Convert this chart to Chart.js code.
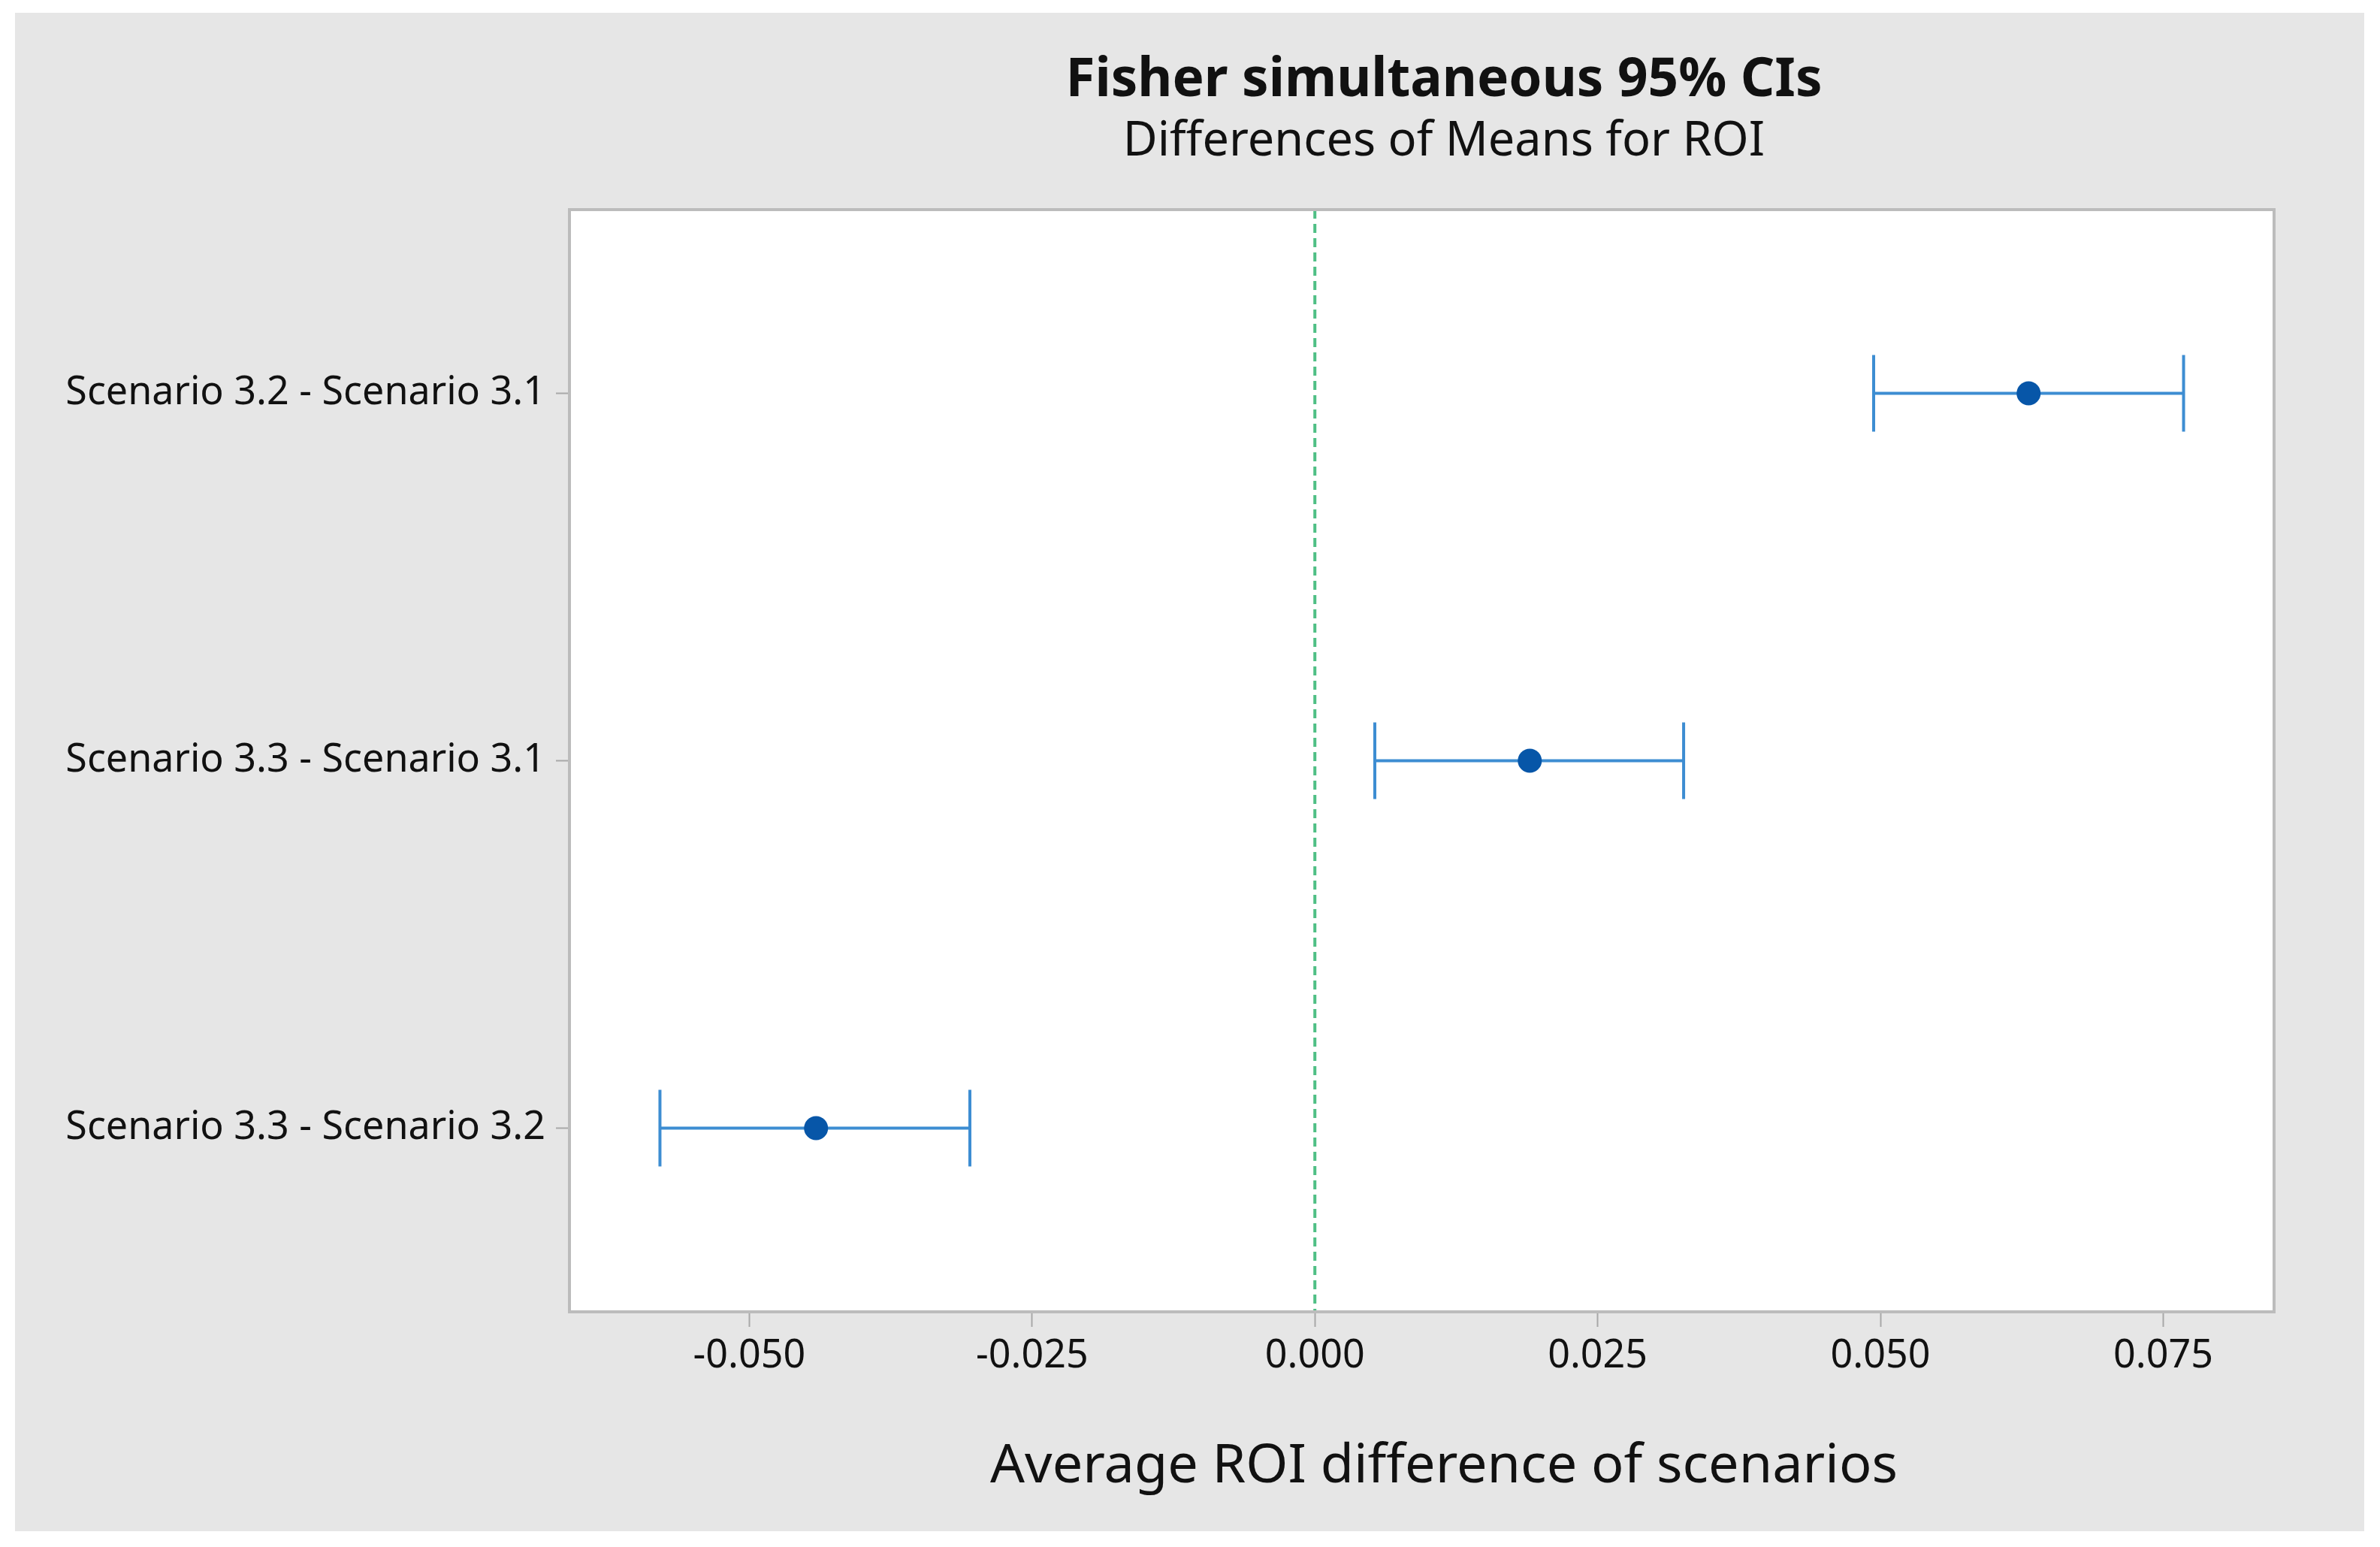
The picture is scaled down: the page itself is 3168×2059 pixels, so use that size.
<!DOCTYPE html>
<html>
<head>
<meta charset="utf-8">
<script src="https://cdn.jsdelivr.net/npm/chart.js@4.4.1/dist/chart.umd.min.js"></script>
<style>
  html, body { margin: 0; padding: 0; background: #ffffff; }
  canvas { display: block; }
</style>
</head>
<body>
<canvas id="ci-chart" width="3168" height="2059" style="width:3168px;height:2059px"></canvas>
<script>
// comparisons, top to bottom
const comparisons = [
  'Scenario 3.2 - Scenario 3.1',
  'Scenario 3.3 - Scenario 3.1',
  'Scenario 3.3 - Scenario 3.2'
];
const means = [0.0631, 0.0190, -0.0441];
const lowerCI = [0.0494, 0.0053, -0.0579];
const upperCI = [0.0768, 0.0326, -0.0305];

const xTicks = [-0.050, -0.025, 0.000, 0.025, 0.050, 0.075];
const xMin = -0.0659;
const xMax = 0.0848;
const yMin = 0.5;
const yMax = 3.5;
const refValue = 0;

const titleText = 'Fisher simultaneous 95% CIs';
const subtitleText = 'Differences of Means for ROI';
const xTitleText = 'Average ROI difference of scenarios';

const FONT = '"Noto Sans", "Open Sans", sans-serif';
const lineBlue = '#3d8dd2';
const dotBlue = '#0756a8';

// background, plot frame and titles
const frame = {
  id: 'frame',
  beforeDraw(chart) {
    const { ctx, chartArea: a } = chart;
    ctx.save();
    ctx.fillStyle = '#ffffff';
    ctx.fillRect(0, 0, chart.width, chart.height);
    ctx.fillStyle = '#e6e6e6';
    ctx.fillRect(20, 17, 3127, 2021);
    ctx.fillStyle = '#ffffff';
    ctx.fillRect(a.left, a.top, a.right - a.left, a.bottom - a.top);
    ctx.restore();
  },
  afterDraw(chart) {
    const { ctx, chartArea: a } = chart;
    ctx.save();
    ctx.strokeStyle = '#bcbcbc';
    ctx.lineWidth = 4;
    ctx.strokeRect(a.left, a.top, a.right - a.left, a.bottom - a.top);

    ctx.fillStyle = '#111111';
    ctx.textAlign = 'center';
    ctx.textBaseline = 'alphabetic';
    ctx.font = 'bold 71px ' + FONT;
    ctx.fillText(titleText, 1922, 128);
    ctx.font = '63px ' + FONT;
    ctx.fillText(subtitleText, 1922, 207);
    ctx.font = '72px ' + FONT;
    ctx.fillText(xTitleText, 1922, 1973);
    ctx.restore();
  }
};

// one horizontal interval line per comparison
const intervalSets = comparisons.map((c, i) => ({
  type: 'line',
  label: c,
  data: [{ x: lowerCI[i], y: i + 1 }, { x: upperCI[i], y: i + 1 }],
  borderColor: lineBlue,
  borderWidth: 4,
  pointRadius: 0,
  order: 3
}));

const capSet = {
  type: 'scatter',
  label: 'caps',
  data: comparisons.flatMap((c, i) => [
    { x: lowerCI[i], y: i + 1 },
    { x: upperCI[i], y: i + 1 }
  ]),
  pointStyle: 'line',
  rotation: 90,
  pointRadius: 51,
  borderColor: lineBlue,
  borderWidth: 4,
  order: 2
};

const meanSet = {
  type: 'scatter',
  label: 'mean',
  data: means.map((m, i) => ({ x: m, y: i + 1 })),
  pointStyle: 'circle',
  pointRadius: 16,
  backgroundColor: dotBlue,
  borderColor: dotBlue,
  borderWidth: 0,
  order: 1
};

const refSet = {
  type: 'line',
  label: 'zero',
  data: [{ x: refValue, y: yMin }, { x: refValue, y: yMax }],
  borderColor: '#4fbf85',
  borderWidth: 4,
  borderDash: [12, 7],
  pointRadius: 0,
  order: 4
};

new Chart(document.getElementById('ci-chart'), {
  type: 'scatter',
  data: {
    datasets: [refSet, ...intervalSets, capSet, meanSet]
  },
  options: {
    responsive: false,
    devicePixelRatio: 1,
    animation: false,
    clip: false,
    layout: {
      padding: { top: 279, right: 141, left: 0, bottom: 0 }
    },
    plugins: {
      legend: { display: false },
      title: { display: false },
      tooltip: { enabled: false }
    },
    scales: {
      x: {
        type: 'linear',
        min: xMin,
        max: xMax,
        afterBuildTicks: axis => {
          axis.ticks = xTicks.map(v => ({ value: v }));
        },
        afterFit: scale => { scale.height = 313; },
        ticks: {
          callback: v => v.toFixed(3),
          font: { family: FONT, size: 52 },
          color: '#111111',
          padding: 8,
          maxRotation: 0
        },
        grid: {
          drawOnChartArea: false,
          drawTicks: true,
          tickLength: 20,
          tickColor: '#a8a8a8',
          tickWidth: 2
        },
        border: { display: false }
      },
      y: {
        type: 'linear',
        min: yMin,
        max: yMax,
        reverse: true,
        afterBuildTicks: axis => {
          axis.ticks = comparisons.map((c, i) => ({ value: i + 1 }));
        },
        afterFit: scale => { scale.width = 758; },
        ticks: {
          callback: v => comparisons[v - 1],
          font: { family: FONT, size: 52 },
          color: '#111111',
          padding: 14
        },
        grid: {
          drawOnChartArea: false,
          drawTicks: true,
          tickLength: 18,
          tickColor: '#a8a8a8',
          tickWidth: 2
        },
        border: { display: false }
      }
    }
  },
  plugins: [frame]
});
</script>
</body>
</html>
